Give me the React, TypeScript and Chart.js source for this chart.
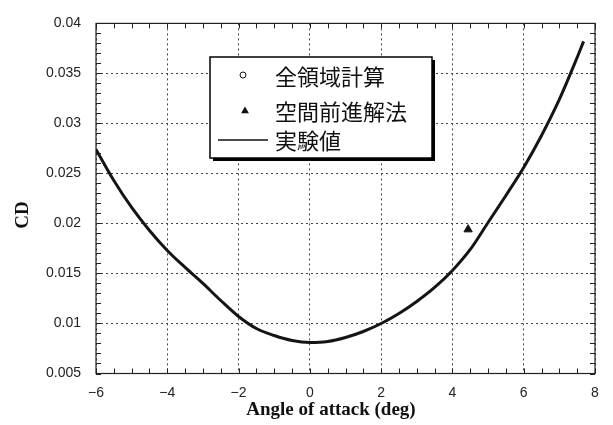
import React, { useEffect, useRef } from 'react';
import { Chart, registerables } from 'chart.js';

Chart.register(...registerables);

// ---- data ----
const seriesLabels = ['全領域計算', '空間前進解法', '実験値'];

const fullDomainAoA: number[] = [];
const fullDomainCD: number[] = [];

const marchingAoA = [4.44];
const marchingCD = [0.0194];

const expAoA = [
  -6, -5.5, -5, -4.5, -4, -3.5, -3, -2.5, -2, -1.5, -1, -0.5, 0, 0.5, 1, 1.5, 2,
  2.5, 3, 3.5, 4, 4.5, 5, 5.5, 6, 6.5, 7, 7.5, 7.68,
];
const expCD = [
  0.0274, 0.0243, 0.0216, 0.0193, 0.0173, 0.0156, 0.014, 0.0123, 0.0107, 0.0095,
  0.0088, 0.0083, 0.0081, 0.0082, 0.0086, 0.0092, 0.01, 0.011, 0.0122, 0.0136,
  0.0153, 0.0174, 0.0201, 0.0228, 0.0256, 0.0288, 0.0324, 0.0366, 0.0382,
];

const xMin = -6;
const xMax = 8;
const xStep = 2;
const xMinorStep = 0.5;
const yMin = 0.005;
const yMax = 0.04;
const yStep = 0.005;
const yMinorStep = 0.001;

const xTitle = 'Angle of attack (deg)';
const yTitle = 'CD';

const toPoints = (xs: number[], ys: number[]) => xs.map((x, i) => ({ x, y: ys[i] }));

const tickFont = { family: '"Liberation Sans", Arial, sans-serif', size: 14 };
const titleFont = 'bold 19px "Liberation Serif", "DejaVu Serif", serif';
const legendFont = '22px "Noto Sans CJK JP", sans-serif';

const decorPlugin = {
  id: 'decor',
  beforeDatasetsDraw(chart: any) {
    const { ctx, chartArea: a, scales } = chart;
    const xs = scales.x;
    const ys = scales.y;
    ctx.save();
    ctx.strokeStyle = '#222';
    ctx.lineWidth = 1;
    ctx.setLineDash([]);
    ctx.beginPath();
    const nx = Math.round((xMax - xMin) / xMinorStep);
    for (let i = 0; i <= nx; i++) {
      const px = Math.round(xs.getPixelForValue(xMin + i * xMinorStep)) + 0.5;
      ctx.moveTo(px, a.bottom);
      ctx.lineTo(px, a.bottom - 5);
      ctx.moveTo(px, a.top);
      ctx.lineTo(px, a.top + 5);
    }
    const ny = Math.round((yMax - yMin) / yMinorStep);
    for (let i = 0; i <= ny; i++) {
      const py = Math.round(ys.getPixelForValue(yMin + i * yMinorStep)) + 0.5;
      ctx.moveTo(a.left, py);
      ctx.lineTo(a.left + 5, py);
      ctx.moveTo(a.right, py);
      ctx.lineTo(a.right - 5, py);
    }
    ctx.stroke();
    ctx.lineWidth = 1.2;
    ctx.strokeRect(a.left, a.top, a.right - a.left, a.bottom - a.top);
    ctx.restore();
  },
  afterDraw(chart: any) {
    const { ctx } = chart;
    ctx.save();
    // axis titles
    ctx.fillStyle = '#111';
    ctx.font = titleFont;
    ctx.textAlign = 'center';
    ctx.textBaseline = 'middle';
    ctx.fillText(xTitle, 331, 410);
    ctx.save();
    ctx.translate(23, 215);
    ctx.rotate(-Math.PI / 2);
    ctx.fillText(yTitle, 0, 0);
    ctx.restore();

    // legend box with shadow
    const bx = 210, by = 57, bw = 222, bh = 101;
    ctx.fillStyle = '#000';
    ctx.fillRect(bx + 3, by + 3, bw, bh);
    ctx.fillStyle = '#fff';
    ctx.fillRect(bx, by, bw, bh);
    ctx.strokeStyle = '#000';
    ctx.lineWidth = 1.5;
    ctx.strokeRect(bx, by, bw, bh);

    const rows = [76, 111, 140];
    const ds = chart.data.datasets;
    ds.forEach((d: any, i: number) => {
      const y = rows[i];
      ctx.fillStyle = '#111';
      ctx.strokeStyle = '#111';
      if (d.showLine) {
        ctx.lineWidth = 1.5;
        ctx.beginPath();
        ctx.moveTo(218, y);
        ctx.lineTo(268, y);
        ctx.stroke();
      } else if (d.pointStyle === 'triangle') {
        const r = 4.5;
        const cx = 245;
        ctx.beginPath();
        ctx.moveTo(cx, y - r);
        ctx.lineTo(cx + r * 0.87, y + r * 0.5);
        ctx.lineTo(cx - r * 0.87, y + r * 0.5);
        ctx.closePath();
        ctx.fill();
      } else {
        ctx.lineWidth = 1;
        ctx.beginPath();
        ctx.arc(243, y - 1, 3, 0, Math.PI * 2);
        ctx.stroke();
      }
      ctx.font = legendFont;
      ctx.textAlign = 'left';
      ctx.textBaseline = 'middle';
      ctx.fillStyle = '#111';
      ctx.fillText(d.label, 275, y + 1);
    });
    ctx.restore();
  },
};

export default function App() {
  const canvasRef = useRef<HTMLCanvasElement | null>(null);

  useEffect(() => {
    document.body.style.margin = '0';
    const canvas = canvasRef.current;
    if (!canvas) return;
    const chart = new Chart(canvas, {
      type: 'scatter',
      data: {
        datasets: [
          {
            label: seriesLabels[0],
            data: toPoints(fullDomainAoA, fullDomainCD),
            pointStyle: 'circle',
            pointRadius: 3,
            borderColor: '#111',
            backgroundColor: '#fff',
            borderWidth: 1,
            showLine: false,
          },
          {
            label: seriesLabels[1],
            data: toPoints(marchingAoA, marchingCD),
            pointStyle: 'triangle',
            pointRadius: 4.8,
            borderColor: '#111',
            backgroundColor: '#111',
            borderWidth: 1,
            showLine: false,
          },
          {
            label: seriesLabels[2],
            data: toPoints(expAoA, expCD),
            showLine: true,
            pointRadius: 0,
            borderColor: '#151515',
            borderWidth: 3,
            cubicInterpolationMode: 'monotone',
            fill: false,
          },
        ],
      },
      options: {
        animation: false,
        responsive: false,
        devicePixelRatio: 1,
        layout: { padding: { top: 14, right: 18, left: 0, bottom: 0 } },
        plugins: { legend: { display: false }, tooltip: { enabled: false } },
        scales: {
          x: {
            type: 'linear',
            min: xMin,
            max: xMax,
            afterFit: (s: any) => {
              s.height = 51.5;
            },
            ticks: {
              stepSize: xStep,
              padding: 11,
              color: '#222',
              font: tickFont,
              callback: (v: any) => String(v).replace('-', '\u2212'),
            },
            grid: { color: '#444', lineWidth: 1, drawTicks: false },
            border: { display: false, dash: [2, 3] },
          },
          y: {
            type: 'linear',
            min: yMin,
            max: yMax,
            afterFit: (s: any) => {
              s.width = 96;
            },
            ticks: {
              stepSize: yStep,
              padding: 15,
              color: '#222',
              font: tickFont,
              callback: (v: any) => Number(v).toFixed(3).replace(/0+$/, ''),
            },
            grid: { color: '#444', lineWidth: 1, drawTicks: false },
            border: { display: false, dash: [2, 3] },
          },
        },
      },
      plugins: [decorPlugin],
    } as any);
    return () => chart.destroy();
  }, []);

  return (
    <div style={{ position: 'absolute', left: 0, top: 0, width: 613, height: 425, background: '#fff' }}>
      <canvas ref={canvasRef} width={613} height={425} />
    </div>
  );
}
